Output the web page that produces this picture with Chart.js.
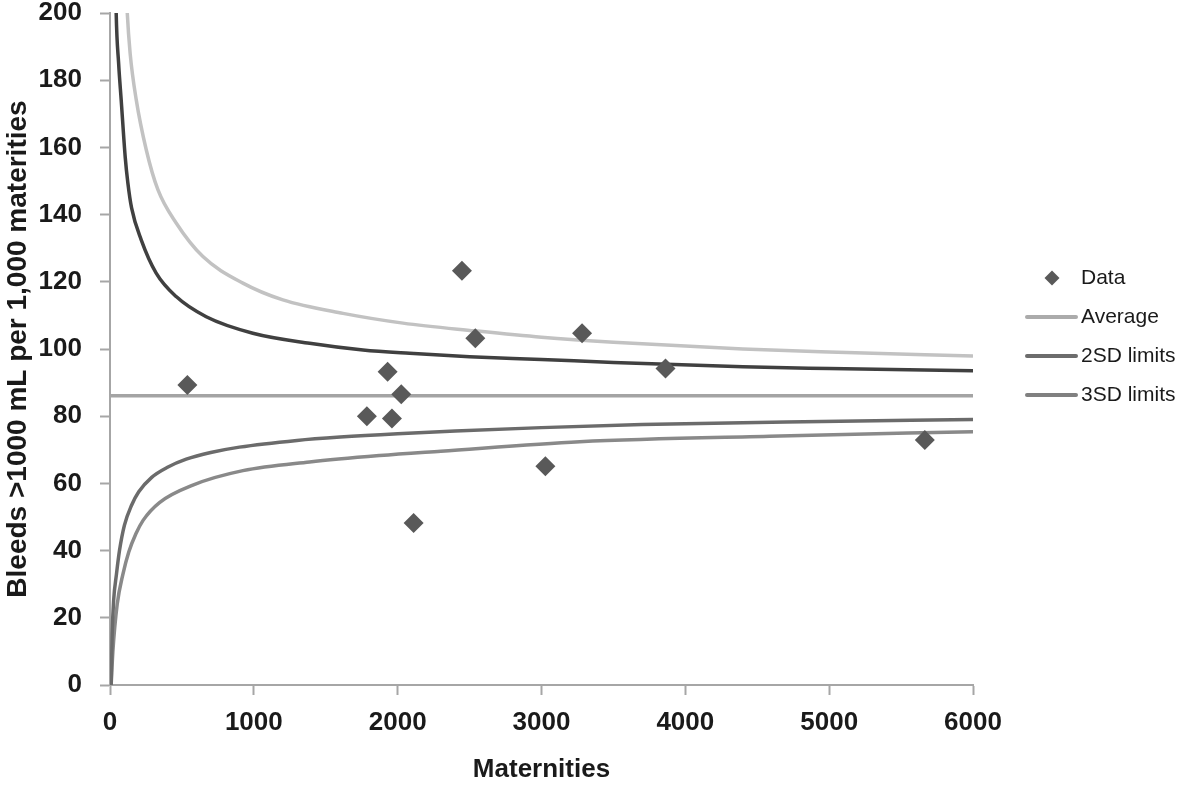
<!DOCTYPE html>
<html>
<head>
<meta charset="utf-8">
<script src="https://cdn.jsdelivr.net/npm/chart.js@4.4.1/dist/chart.umd.min.js"></script>
<style>
  html, body { margin: 0; padding: 0; background: #ffffff; }
  #wrap { position: relative; width: 1181px; height: 785px; }
</style>
</head>
<body>
<div id="wrap"><canvas id="c" width="1181" height="785"></canvas></div>
<script>
// ---- data ----
const xTicks = [0, 1000, 2000, 3000, 4000, 5000, 6000];
const yTicks = [0, 20, 40, 60, 80, 100, 120, 140, 160, 180, 200];

const dataX = [538, 1786, 1930, 1960, 2025, 2111, 2447, 2540, 3027, 3282, 3862, 5665];
const dataY = [89.3, 80.0, 93.2, 79.3, 86.5, 48.2, 123.3, 103.2, 65.1, 104.7, 94.2, 72.9];

const avgX = [0, 6000];
const avgY = [86.1, 86.1];

const up2X = [25, 43, 60, 78, 106, 124, 150, 217, 321, 460, 669, 993, 1388, 1759, 2083, 2500, 3000, 3500, 4400, 5000, 6000];
const up2Y = [250, 200, 185, 174, 157, 149.5, 142, 132.5, 122.6, 115.6, 109.6, 104.7, 101.7, 99.7, 98.7, 97.7, 96.9, 96.0, 94.7, 94.2, 93.5];

const up3X = [90, 120, 140, 182, 252, 333, 460, 646, 924, 1202, 1620, 2037, 2536, 3000, 3500, 4400, 5000, 6000];
const up3Y = [230, 200, 188, 174.3, 159.3, 147.4, 137.5, 127.5, 119.6, 114.6, 110.6, 107.7, 105.4, 103.5, 102.0, 100.0, 99.1, 97.9];

const lo2X = [8, 15, 25, 45, 66, 100, 150, 200, 290, 400, 530, 700, 900, 1300, 1600, 2000, 2400, 3000, 3700, 4700, 6000];
const lo2Y = [0, 15, 25, 33, 40, 47.5, 53.5, 57.5, 61.8, 64.8, 67.2, 69.2, 70.8, 72.8, 73.8, 74.8, 75.6, 76.6, 77.5, 78.3, 79.0];

const lo3X = [8, 20, 50, 90, 130, 180, 230, 344, 576, 924, 1388, 1875, 2300, 3266, 4657, 6000];
const lo3Y = [0, 10, 24, 33, 39.5, 45, 49, 54.3, 59.5, 63.8, 66.4, 68.3, 69.6, 72.4, 74.1, 75.4];

const seriesLabels = ['Data', 'Average', '2SD limits', '3SD limits'];
const xTitle = 'Maternities';
const yTitle = 'Bleeds >1000 mL per 1,000 materities';
// ----------------------------------------------

const pts = (xs, ys) => xs.map((x, i) => ({ x: x, y: ys[i] }));

const COL = {
  data: '#595959',
  avg: '#a4a4a4',
  up2: '#404040',
  lo2: '#6b6b6b',
  up3: '#c2c2c2',
  lo3: '#898989',
  legAvg: '#ababab',
  leg2: '#6c6c6c',
  leg3: '#808080',
  axis: '#a6a6a6',
  text: '#1a1a1a'
};

const lineDs = (label, xs, ys, color) => ({
  type: 'line',
  label: label,
  data: pts(xs, ys),
  borderColor: color,
  backgroundColor: color,
  borderWidth: 3.5,
  pointRadius: 0,
  pointHoverRadius: 0,
  fill: false,
  showLine: true,
  cubicInterpolationMode: 'monotone',
  order: 2
});

const legendPlugin = {
  id: 'sideLegend',
  afterDraw(chart) {
    const ctx = chart.ctx;
    ctx.save();
    ctx.font = '21px "Liberation Sans", Arial, sans-serif';
    ctx.textBaseline = 'middle';
    ctx.textAlign = 'left';
    const tx = 1081;
    const dy = 278;
    ctx.beginPath();
    ctx.moveTo(1052 - 7.5, dy);
    ctx.lineTo(1052, dy - 7.5);
    ctx.lineTo(1052 + 7.5, dy);
    ctx.lineTo(1052, dy + 7.5);
    ctx.closePath();
    ctx.fillStyle = COL.data;
    ctx.fill();
    ctx.fillStyle = COL.text;
    ctx.fillText(seriesLabels[0], tx, dy);
    const rows = [
      { y: 317, c: COL.legAvg, t: seriesLabels[1] },
      { y: 356, c: COL.leg2, t: seriesLabels[2] },
      { y: 395, c: COL.leg3, t: seriesLabels[3] }
    ];
    rows.forEach(r => {
      ctx.beginPath();
      ctx.strokeStyle = r.c;
      ctx.lineWidth = 4;
      ctx.lineCap = 'round';
      ctx.moveTo(1027, r.y);
      ctx.lineTo(1076, r.y);
      ctx.stroke();
      ctx.fillStyle = COL.text;
      ctx.fillText(r.t, tx, r.y);
    });
    ctx.restore();
  }
};

new Chart(document.getElementById('c'), {
  type: 'scatter',
  data: {
    datasets: [
      {
        type: 'scatter',
        label: seriesLabels[0],
        data: pts(dataX, dataY),
        pointStyle: 'rectRot',
        pointRadius: 10,
        pointHoverRadius: 10,
        backgroundColor: COL.data,
        borderColor: COL.data,
        borderWidth: 0,
        showLine: false,
        order: 1
      },
      lineDs(seriesLabels[1], avgX, avgY, COL.avg),
      lineDs(seriesLabels[2], up2X, up2Y, COL.up2),
      lineDs(seriesLabels[2], lo2X, lo2Y, COL.lo2),
      lineDs(seriesLabels[3], up3X, up3Y, COL.up3),
      lineDs(seriesLabels[3], lo3X, lo3Y, COL.lo3)
    ]
  },
  options: {
    responsive: false,
    animation: false,
    events: [],
    layout: { padding: { left: 0, top: 0, right: 208, bottom: 0 } },
    plugins: {
      legend: { display: false },
      tooltip: { enabled: false }
    },
    scales: {
      x: {
        type: 'linear',
        min: 0,
        max: 6000,
        afterBuildTicks(scale) { scale.ticks = xTicks.map(v => ({ value: v })); },
        afterFit(scale) { scale.height = 100; },
        grid: {
          drawOnChartArea: false,
          drawTicks: true,
          tickLength: 10,
          tickWidth: 2,
          color: COL.axis
        },
        border: { display: true, color: COL.axis, width: 2 },
        ticks: {
          color: COL.text,
          padding: 12,
          maxRotation: 0,
          callback: v => String(v),
          font: { family: '"Liberation Sans", Arial, sans-serif', size: 26, weight: 'bold' }
        },
        title: {
          display: true,
          text: xTitle,
          color: COL.text,
          padding: { top: 0, bottom: 0 },
          font: { family: '"Liberation Sans", Arial, sans-serif', size: 26, weight: 'bold' }
        }
      },
      y: {
        type: 'linear',
        min: 0,
        max: 200,
        afterBuildTicks(scale) { scale.ticks = yTicks.map(v => ({ value: v })); },
        afterFit(scale) { scale.width = 110; scale.paddingTop = 13; scale.paddingBottom = 0; },
        grid: {
          drawOnChartArea: false,
          drawTicks: true,
          tickLength: 10,
          tickWidth: 2,
          color: COL.axis
        },
        border: { display: true, color: COL.axis, width: 2 },
        ticks: {
          color: COL.text,
          padding: 18,
          callback: v => String(v),
          font: { family: '"Liberation Sans", Arial, sans-serif', size: 26, weight: 'bold' }
        },
        title: {
          display: true,
          text: yTitle,
          color: COL.text,
          padding: { top: 1, bottom: 0 },
          font: { family: '"Liberation Sans", Arial, sans-serif', size: 28, weight: 'bold' }
        }
      }
    }
  },
  plugins: [legendPlugin]
});
</script>
</body>
</html>
